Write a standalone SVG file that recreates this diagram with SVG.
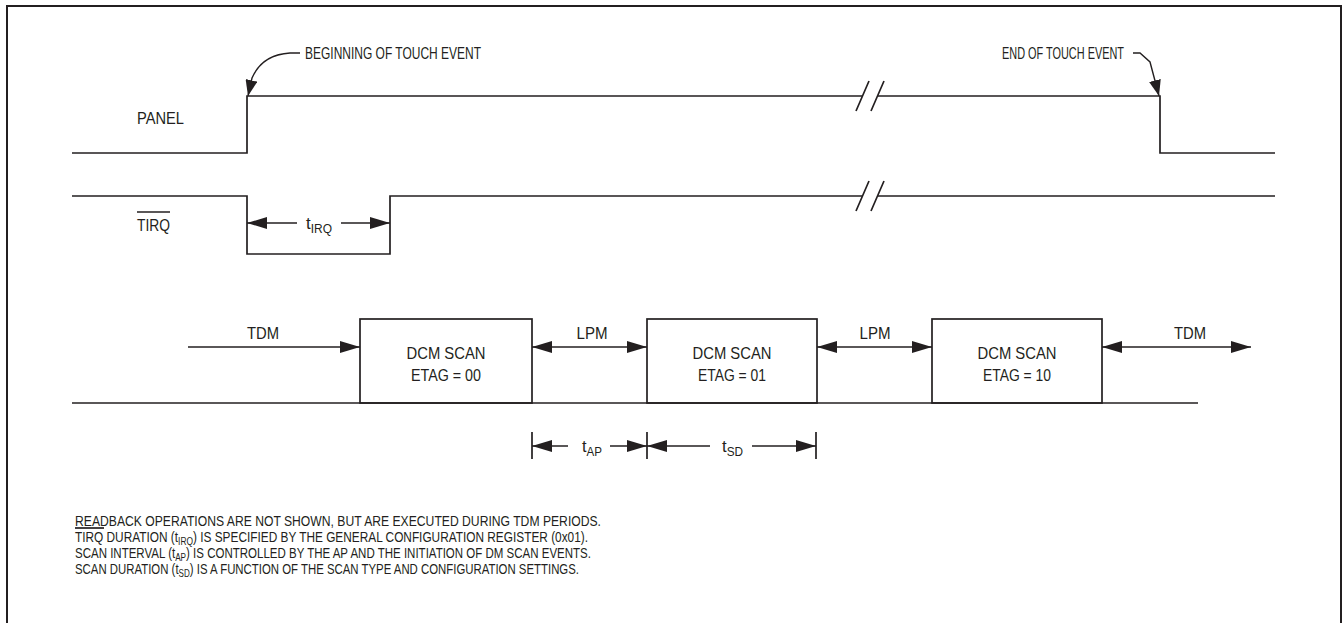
<svg xmlns="http://www.w3.org/2000/svg" width="1343" height="623" viewBox="0 0 1343 623">
<style>
  .ln{fill:none;stroke:#231f20;stroke-width:1.7}
  .frame{fill:none;stroke:#231f20;stroke-width:2}
  .box{fill:#fff;stroke:#231f20;stroke-width:1.7}
  text{font-family:"Liberation Sans",Arial,sans-serif;fill:#231f20}
  .lbl{font-size:17px}
  .note{font-size:15.5px}
  .sub{font-size:12px}
  .nsub{font-size:11px}
  .mid{text-anchor:middle}
  .arr{fill:none;stroke:#231f20;stroke-width:1.7;marker-end:url(#ah)}
  .dbl{fill:none;stroke:#231f20;stroke-width:1.7;marker-start:url(#ah);marker-end:url(#ah)}
  .lead{fill:none;stroke:#231f20;stroke-width:1.4;marker-end:url(#lh)}
</style>
<defs>
  <marker id="ah" viewBox="0 0 20 12" refX="20" refY="6" markerWidth="20" markerHeight="12" markerUnits="userSpaceOnUse" orient="auto-start-reverse">
    <path d="M0,0 L20,6 L0,12 z" fill="#231f20"/>
  </marker>
  <marker id="lh" viewBox="0 0 16 12" refX="16" refY="6" markerWidth="16" markerHeight="12" markerUnits="userSpaceOnUse" orient="auto">
    <path d="M0,0 L16,6 L0,12 z" fill="#231f20"/>
  </marker>
</defs>
<rect class="frame" x="7" y="6" width="1334" height="620"/>

<g id="panel">
  <text class="lbl" x="137" y="124" textLength="47" lengthAdjust="spacingAndGlyphs">PANEL</text>
  <path class="ln" d="M72,153 H247 V96 H862 M878,96 H1160 V153 H1275"/>
  <path class="ln" d="M856,111 L869,81 M871,111 L884,81"/>
</g>

<g id="tirq">
  <text class="lbl" x="137" y="231" textLength="33" lengthAdjust="spacingAndGlyphs">TIRQ</text>
  <line class="ln" x1="137" y1="212" x2="170" y2="212" stroke-width="1.3"/>
  <path class="ln" d="M72,196 H247 V254 H390 V196 H862 M878,196 H1275"/>
  <path class="ln" d="M856,211 L869,181 M871,211 L884,181"/>
</g>

<g id="events">
  <text class="lbl" x="305" y="59" textLength="176" lengthAdjust="spacingAndGlyphs">BEGINNING OF TOUCH EVENT</text>
  <text class="lbl" x="1002" y="59" textLength="122" lengthAdjust="spacingAndGlyphs">END OF TOUCH EVENT</text>
</g>

<g id="scan1">
  <rect class="box" x="360" y="319" width="172" height="84"/>
  <text class="lbl mid" x="446" y="359" textLength="79" lengthAdjust="spacingAndGlyphs">DCM SCAN</text>
  <text class="lbl mid" x="446" y="381" textLength="70" lengthAdjust="spacingAndGlyphs">ETAG = 00</text>
</g>
<g id="scan2">
  <rect class="box" x="647" y="319" width="170" height="84"/>
  <text class="lbl mid" x="732" y="359" textLength="79" lengthAdjust="spacingAndGlyphs">DCM SCAN</text>
  <text class="lbl mid" x="732" y="381" textLength="68" lengthAdjust="spacingAndGlyphs">ETAG = 01</text>
</g>
<g id="scan3">
  <rect class="box" x="932" y="319" width="170" height="84"/>
  <text class="lbl mid" x="1017" y="359" textLength="79" lengthAdjust="spacingAndGlyphs">DCM SCAN</text>
  <text class="lbl mid" x="1017" y="381" textLength="68" lengthAdjust="spacingAndGlyphs">ETAG = 10</text>
</g>

<g id="connectors">
  <path class="lead" d="M300,53 H290 C273,54 259,62 252,78 L248,96"/>
  <path class="lead" d="M1133,53 H1140 L1150,62 L1154,77 L1159,96"/>
  <line class="ln" x1="72" y1="403" x2="1198" y2="403"/>
  <path class="arr" d="M188,347 H360"/>
  <path class="dbl" d="M532,347 H647"/>
  <path class="dbl" d="M817,347 H932"/>
  <path class="dbl" d="M1102,347 H1251"/>
  <path class="arr" d="M297,223 H247"/>
  <path class="arr" d="M341,223 H390"/>
  <path class="ln" d="M532,432 V459 M647,432 V459 M816,432 V459"/>
  <path class="arr" d="M568,446 H532"/>
  <path class="arr" d="M610,446 H647"/>
  <path class="arr" d="M710,446 H647"/>
  <path class="arr" d="M752,446 H816"/>
</g>

<g id="labels">
  <text class="lbl mid" x="263" y="339" textLength="32" lengthAdjust="spacingAndGlyphs">TDM</text>
  <text class="lbl mid" x="592" y="339" textLength="31" lengthAdjust="spacingAndGlyphs">LPM</text>
  <text class="lbl mid" x="875" y="339" textLength="31" lengthAdjust="spacingAndGlyphs">LPM</text>
  <text class="lbl mid" x="1190" y="339" textLength="32" lengthAdjust="spacingAndGlyphs">TDM</text>
  <text class="lbl" x="306" y="229" textLength="26" lengthAdjust="spacingAndGlyphs">t<tspan class="sub" dy="4">IRQ</tspan></text>
  <text class="lbl" x="582" y="452" textLength="20" lengthAdjust="spacingAndGlyphs">t<tspan class="sub" dy="4">AP</tspan></text>
  <text class="lbl" x="722" y="452" textLength="21" lengthAdjust="spacingAndGlyphs">t<tspan class="sub" dy="4">SD</tspan></text>
</g>

<g id="notes">
  <text class="note" x="75" y="526" textLength="526" lengthAdjust="spacingAndGlyphs">READBACK OPERATIONS ARE NOT SHOWN, BUT ARE EXECUTED DURING TDM PERIODS.</text>
  <line class="ln" x1="75" y1="528" x2="104" y2="528" stroke-width="1"/>
  <text class="note" x="75" y="542" textLength="513" lengthAdjust="spacingAndGlyphs">TIRQ DURATION (t<tspan class="nsub" dy="2.5">IRQ</tspan><tspan dy="-2.5">) IS SPECIFIED BY THE GENERAL CONFIGURATION REGISTER (0x01).</tspan></text>
  <text class="note" x="75" y="558" textLength="516" lengthAdjust="spacingAndGlyphs">SCAN INTERVAL (t<tspan class="nsub" dy="2.5">AP</tspan><tspan dy="-2.5">) IS CONTROLLED BY THE AP AND THE INITIATION OF DM SCAN EVENTS.</tspan></text>
  <text class="note" x="75" y="574" textLength="504" lengthAdjust="spacingAndGlyphs">SCAN DURATION (t<tspan class="nsub" dy="2.5">SD</tspan><tspan dy="-2.5">) IS A FUNCTION OF THE SCAN TYPE AND CONFIGURATION SETTINGS.</tspan></text>
</g>
</svg>
